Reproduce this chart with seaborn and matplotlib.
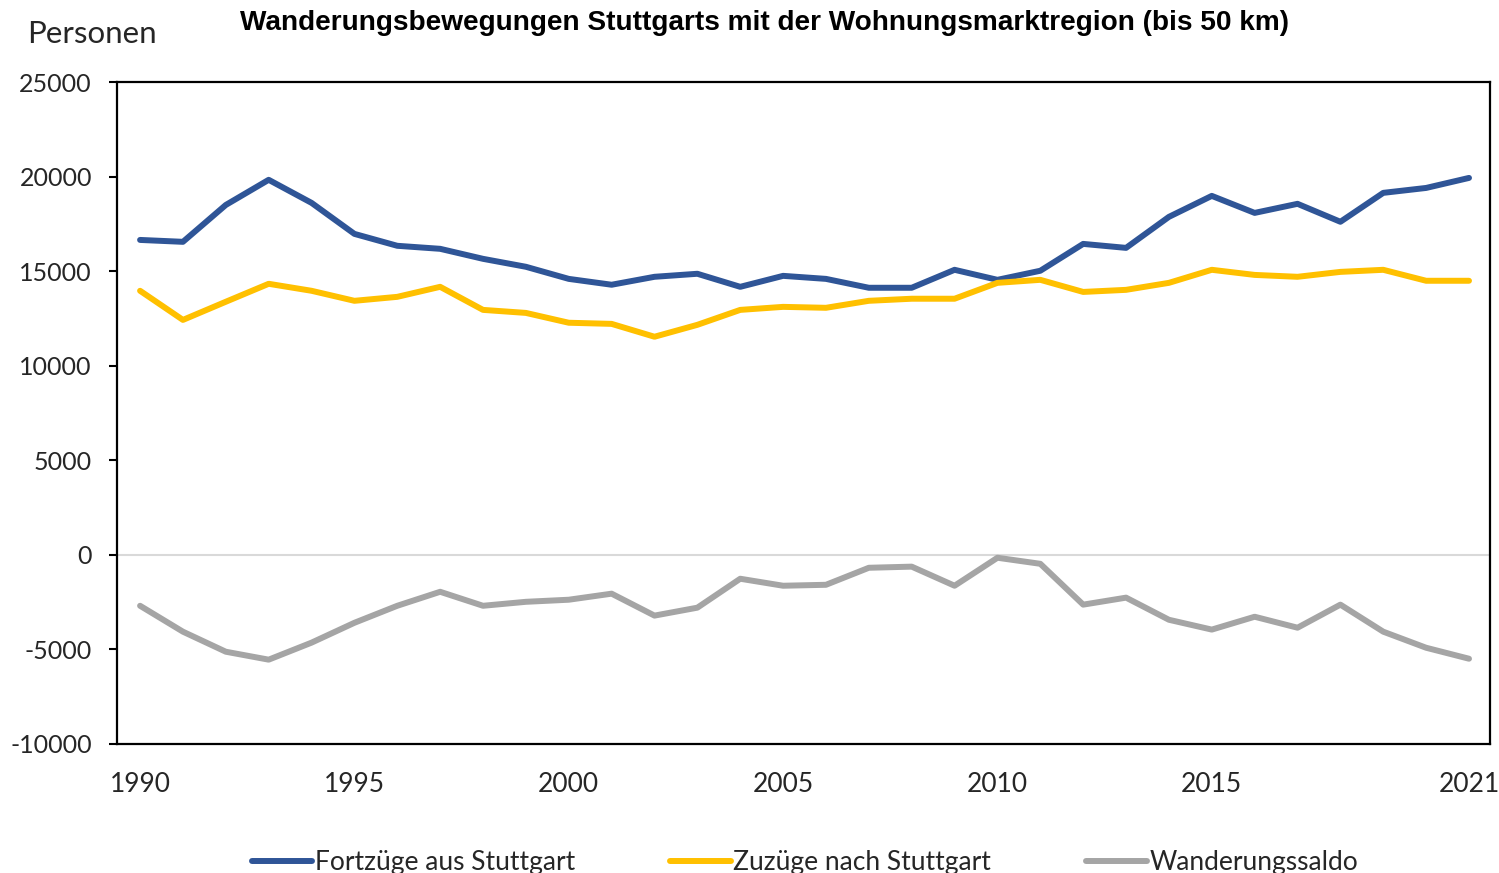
import pandas as pd
import numpy as np
import matplotlib.pyplot as plt
import seaborn as sns

years = list(range(1990, 2022))
fortzuege = [16650, 16550, 18500, 19830, 18610, 16970, 16340, 16180, 15650, 15230,
             14590, 14280, 14700, 14860, 14170, 14750, 14590, 14120, 14120, 15070,
             14540, 15020, 16440, 16230, 17870, 18980, 18080, 18560, 17610, 19140,
             19400, 19930]
zuzuege = [13960, 12420, 13380, 14330, 13960, 13430, 13640, 14170, 12950, 12790,
           12270, 12210, 11530, 12160, 12950, 13110, 13060, 13430, 13540, 13540,
           14380, 14540, 13900, 14010, 14380, 15070, 14800, 14700, 14960, 15070,
           14490, 14490]
saldo = [-2700, -4070, -5130, -5550, -4650, -3600, -2700, -1960, -2700, -2490,
         -2380, -2060, -3220, -2800, -1270, -1640, -1590, -690, -630, -1640,
         -160, -480, -2640, -2270, -3440, -3960, -3280, -3860, -2640, -4070,
         -4920, -5500]
series_names = ["Fortzüge aus Stuttgart", "Zuzüge nach Stuttgart", "Wanderungssaldo"]
colors = ["#2F5597", "#FFC000", "#A5A5A5"]
xtick_years = [1990, 1995, 2000, 2005, 2010, 2015, 2021]
yticks = list(range(-10000, 25001, 5000))

df = pd.DataFrame({"Jahr": years, series_names[0]: fortzuege,
                   series_names[1]: zuzuege, series_names[2]: saldo})
long_df = df.melt(id_vars="Jahr", var_name="Reihe", value_name="Personen")

sns.set_style("white")
plt.rcParams['font.family'] = ['Lato', 'DejaVu Sans']

fig = plt.figure(figsize=(14.99, 8.73), dpi=100)
ax = fig.add_axes([0.078, 0.148, 0.916, 0.758])

ax.axhline(0, color="#D9D9D9", linewidth=1.5, zorder=1)
sns.lineplot(data=long_df, x="Jahr", y="Personen", hue="Reihe",
             palette=colors, hue_order=series_names, linewidth=4.3,
             legend=False, ax=ax, zorder=3)

ax.set_xlim(1989.46, 2021.49)
ax.set_ylim(-10000, 25000)
ax.set_xticks(xtick_years)
ax.set_yticks(yticks)
ax.set_yticklabels([str(v) for v in yticks])
ax.tick_params(axis="x", length=0, labelsize=19, pad=20, labelcolor="#262626")
ax.tick_params(axis="y", length=6, width=1.5, direction="out", left=True,
               labelsize=18, pad=12, color="black", labelcolor="#262626")
ax.set_xlabel("")
ax.set_ylabel("")
for sp in ax.spines.values():
    sp.set_color("black")
    sp.set_linewidth(1.6)

fig.text(0.018, 0.961, "Personen", fontsize=22.5, color="#262626", va="center", ha="left")
fig.text(0.51, 0.974, "Wanderungsbewegungen Stuttgarts mit der Wohnungsmarktregion (bis 50 km)",
         fontsize=20.2, fontweight="bold", family=["Liberation Sans", "DejaVu Sans"],
         color="black", ha="center", va="center")

handles = [plt.Line2D([], [], color=c, linewidth=4.3) for c in colors]
fig.legend(handles, series_names, loc="center", bbox_to_anchor=(0.537, 0.012),
           ncol=3, frameon=False, fontsize=19, handlelength=2.3,
           handletextpad=0.1, columnspacing=3.6, labelcolor="#262626")

fig.savefig("out.png", dpi=100)
